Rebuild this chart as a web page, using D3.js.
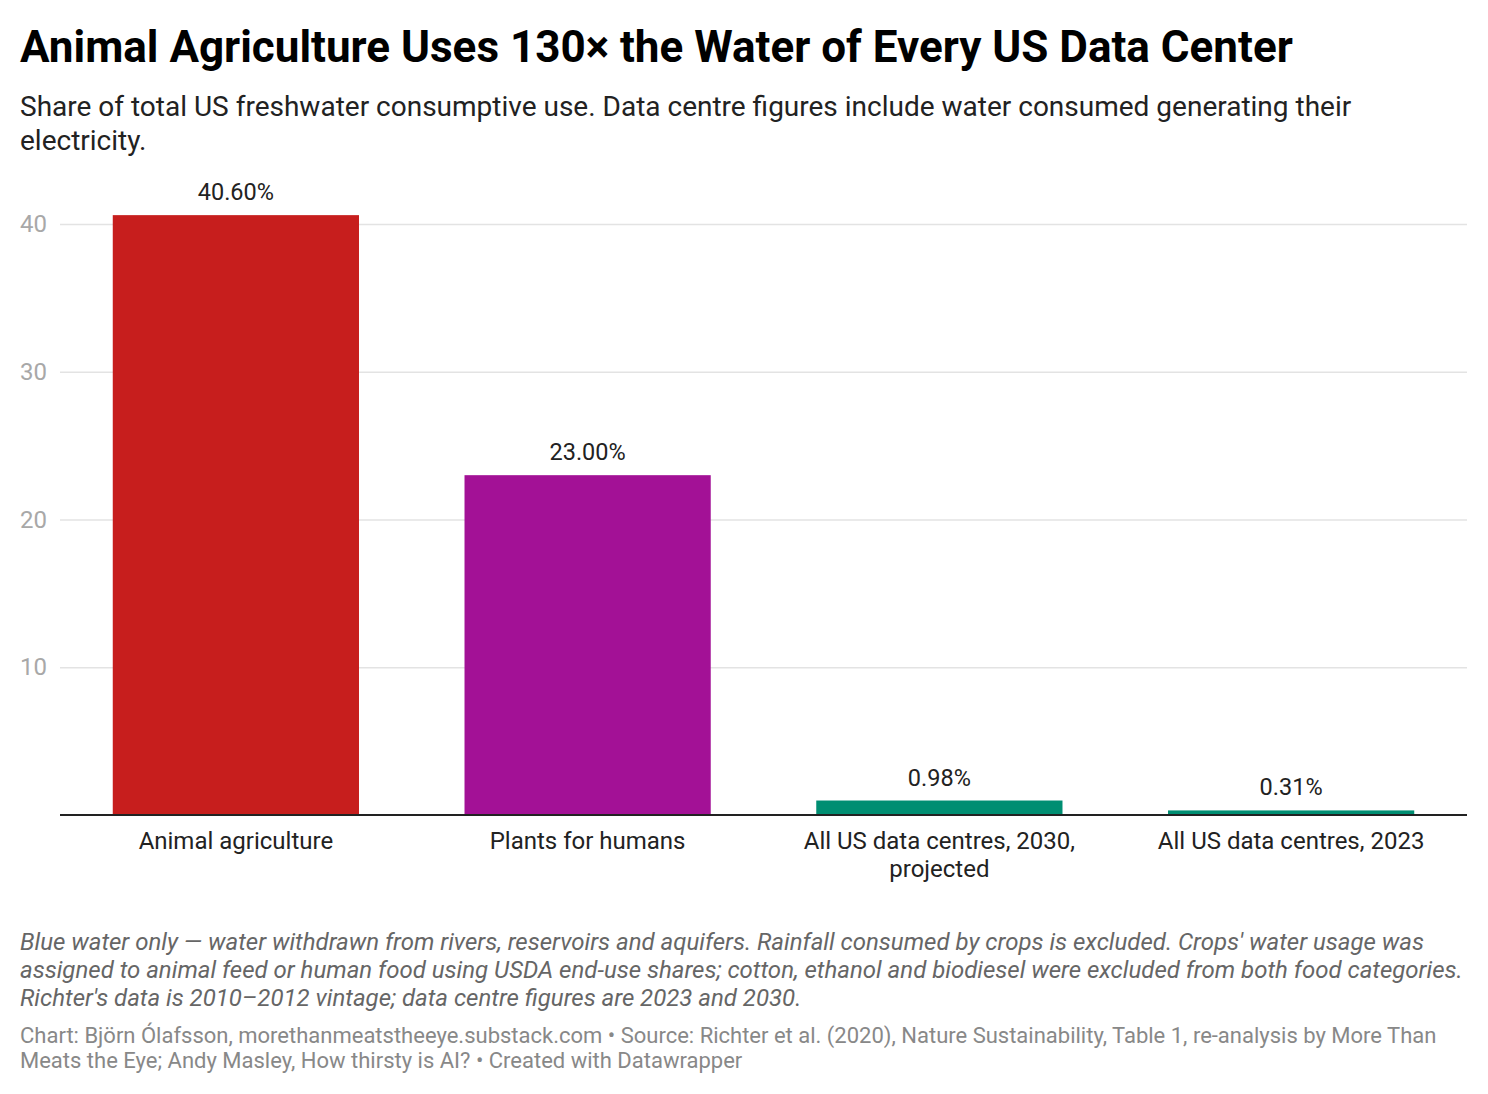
<!DOCTYPE html>
<html>
<head>
<meta charset="utf-8">
<script src="https://cdn.jsdelivr.net/npm/d3@7"></script>
<style>
  body { margin: 0; background: #fff; }
  svg { display: block; font-family: Roboto, sans-serif; }
</style>
</head>
<body>
<div id="chart"></div>
<script>
// data
const categories = ["Animal agriculture", "Plants for humans", "All US data centres, 2030, projected", "All US data centres, 2023"];
const categoryLines = [["Animal agriculture"], ["Plants for humans"], ["All US data centres, 2030,", "projected"], ["All US data centres, 2023"]];
const values = [40.6, 23.0, 0.98, 0.31];
const barColors = ["#c71e1d", "#a31196", "#008e72", "#008e72"];
const yTicks = [10, 20, 30, 40];

const title = "Animal Agriculture Uses 130× the Water of Every US Data Center";
const subtitleLines = [
    "Share of total US freshwater consumptive use. Data centre figures include water consumed generating their",
    "electricity."
];
const noteLines = [
    "Blue water only — water withdrawn from rivers, reservoirs and aquifers. Rainfall consumed by crops is excluded. Crops' water usage was",
    "assigned to animal feed or human food using USDA end-use shares; cotton, ethanol and biodiesel were excluded from both food categories.",
    "Richter's data is 2010–2012 vintage; data centre figures are 2023 and 2030."
];
const footerLines = [
    "Chart: Björn Ólafsson, morethanmeatstheeye.substack.com • Source: Richter et al. (2020), Nature Sustainability, Table 1, re-analysis by More Than",
    "Meats the Eye; Andy Masley, How thirsty is AI? • Created with Datawrapper"
];

// layout
const width = 1488;
const height = 1094;
const plot = {left: 60, right: 1467, top: 224, bottom: 815};

const svg = d3.select("#chart")
    .append("svg")
        .attr("width", width)
        .attr("height", height);

// header
svg.append("text")
    .attr("x", 20)
    .attr("y", 62)
    .attr("font-size", 44)
    .attr("font-weight", 700)
    .attr("fill", "#000")
    .text(title);

svg.append("g")
    .selectAll("text")
    .data(subtitleLines)
    .join("text")
        .attr("x", 20)
        .attr("y", (d, i) => 116 + i * 34)
        .attr("font-size", 28)
        .attr("fill", "#222")
        .text(d => d);

// scales
const x = d3.scaleBand()
    .domain(categories)
    .range([plot.left, plot.right])
    .paddingInner(0.3)
    .paddingOuter(0.15);

const y = d3.scaleLinear()
    .domain([0, 40])
    .range([plot.bottom, plot.top]);

// gridlines + y labels
const yAxis = svg.append("g")
    .attr("transform", `translate(${plot.left}, 0)`)
    .call(d3.axisLeft(y).tickValues(yTicks).tickSize(-(plot.right - plot.left)).tickPadding(13));
yAxis.select(".domain").remove();
yAxis.selectAll(".tick line").attr("stroke", "#e3e3e3").attr("stroke-width", 1.5);
yAxis.selectAll(".tick text")
    .attr("font-size", 24)
    .attr("font-family", "Roboto, sans-serif")
    .attr("fill", "#a8a8a8");

// bars
svg.append("g")
    .selectAll("rect")
    .data(values)
    .join("rect")
        .attr("x", (d, i) => x(categories[i]))
        .attr("y", d => y(d))
        .attr("width", x.bandwidth())
        .attr("height", d => y(0) - y(d))
        .attr("fill", (d, i) => barColors[i]);

// value labels
svg.append("g")
    .selectAll("text")
    .data(values)
    .join("text")
        .attr("x", (d, i) => x(categories[i]) + x.bandwidth() / 2)
        .attr("y", d => y(d) - 15)
        .attr("text-anchor", "middle")
        .attr("font-size", 23.5)
        .attr("fill", "#222")
        .text(d => d.toFixed(2) + "%");

// baseline
svg.append("line")
    .attr("x1", plot.left)
    .attr("x2", plot.right)
    .attr("y1", y(0))
    .attr("y2", y(0))
    .attr("stroke", "#222")
    .attr("stroke-width", 2);

// category labels
svg.append("g")
    .selectAll("text")
    .data(categories)
    .join("text")
        .attr("x", d => x(d) + x.bandwidth() / 2)
        .attr("y", 849)
        .attr("text-anchor", "middle")
        .attr("font-size", 24)
        .attr("fill", "#222")
    .selectAll("tspan")
    .data((d, i) => categoryLines[i])
    .join("tspan")
        .attr("x", function() { return this.parentNode.getAttribute("x"); })
        .attr("dy", (d, i) => i === 0 ? 0 : 28)
        .text(d => d);

// notes
svg.append("g")
    .selectAll("text")
    .data(noteLines)
    .join("text")
        .attr("x", 20)
        .attr("y", (d, i) => 950 + i * 28)
        .attr("font-size", 24)
        .attr("font-style", "italic")
        .attr("fill", "#666")
        .text(d => d);

// footer
svg.append("g")
    .selectAll("text")
    .data(footerLines)
    .join("text")
        .attr("x", 20)
        .attr("y", (d, i) => 1043 + i * 25)
        .attr("font-size", 22)
        .attr("fill", "#888")
        .text(d => d);
</script>
</body>
</html>
